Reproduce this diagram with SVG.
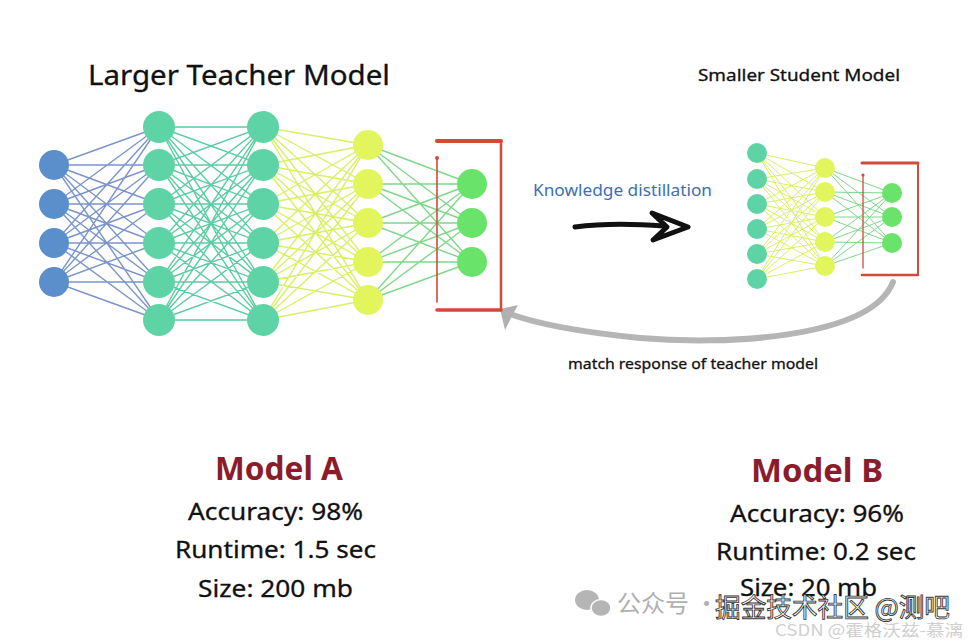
<svg xmlns="http://www.w3.org/2000/svg" width="968" height="643" viewBox="0 0 968 643">
<style>
text{font-family:"Noto Sans","Liberation Sans",sans-serif;}
.e1{stroke:#7b95cb;stroke-width:1.4;fill:none}
.e2{stroke:#5ccca2;stroke-width:1.4;fill:none}
.e3{stroke:#d9ef66;stroke-width:1.4;fill:none}
.e4{stroke:#7fd88a;stroke-width:1.4;fill:none}
.s3{stroke:#d9ef66;stroke-width:1;fill:none}
.s4{stroke:#7fd88a;stroke-width:1;fill:none}
.blue{fill:#5a8fcb}
.teal{fill:#5ed3a6}
.yel{fill:#e2f55c}
.grn{fill:#6ae36a}
.red{stroke:#d24a3a;fill:none;stroke-linecap:round}
.lbl{fill:#111;stroke:#111;stroke-width:0.3}
.title{fill:#8b1c2b;font-weight:bold}
</style>
<rect width="968" height="643" fill="#fff"/>

<g id="connectors">
<path class="e1" d="M54 165L159 127M54 165L159 165M54 165L159 204M54 165L159 243M54 165L159 282M54 165L159 320M54 204L159 127M54 204L159 165M54 204L159 204M54 204L159 243M54 204L159 282M54 204L159 320M54 243L159 127M54 243L159 165M54 243L159 204M54 243L159 243M54 243L159 282M54 243L159 320M54 282L159 127M54 282L159 165M54 282L159 204M54 282L159 243M54 282L159 282M54 282L159 320"/>
<path class="e2" d="M159 127L263 127M159 127L263 165M159 127L263 204M159 127L263 243M159 127L263 282M159 127L263 320M159 165L263 127M159 165L263 165M159 165L263 204M159 165L263 243M159 165L263 282M159 165L263 320M159 204L263 127M159 204L263 165M159 204L263 204M159 204L263 243M159 204L263 282M159 204L263 320M159 243L263 127M159 243L263 165M159 243L263 204M159 243L263 243M159 243L263 282M159 243L263 320M159 282L263 127M159 282L263 165M159 282L263 204M159 282L263 243M159 282L263 282M159 282L263 320M159 320L263 127M159 320L263 165M159 320L263 204M159 320L263 243M159 320L263 282M159 320L263 320"/>
<path class="e3" d="M263 127L368 145M263 127L368 184M263 127L368 223M263 127L368 262M263 127L368 300M263 165L368 145M263 165L368 184M263 165L368 223M263 165L368 262M263 165L368 300M263 204L368 145M263 204L368 184M263 204L368 223M263 204L368 262M263 204L368 300M263 243L368 145M263 243L368 184M263 243L368 223M263 243L368 262M263 243L368 300M263 282L368 145M263 282L368 184M263 282L368 223M263 282L368 262M263 282L368 300M263 320L368 145M263 320L368 184M263 320L368 223M263 320L368 262M263 320L368 300"/>
<path class="e4" d="M368 145L472 184M368 145L472 223M368 145L472 262M368 184L472 184M368 184L472 223M368 184L472 262M368 223L472 184M368 223L472 223M368 223L472 262M368 262L472 184M368 262L472 223M368 262L472 262M368 300L472 184M368 300L472 223M368 300L472 262"/>
<path class="s3" d="M757 153L825 168M757 153L825 192M757 153L825 217M757 153L825 242M757 153L825 266M757 179L825 168M757 179L825 192M757 179L825 217M757 179L825 242M757 179L825 266M757 204L825 168M757 204L825 192M757 204L825 217M757 204L825 242M757 204L825 266M757 229L825 168M757 229L825 192M757 229L825 217M757 229L825 242M757 229L825 266M757 254L825 168M757 254L825 192M757 254L825 217M757 254L825 242M757 254L825 266M757 279L825 168M757 279L825 192M757 279L825 217M757 279L825 242M757 279L825 266"/>
<path class="s4" d="M825 168L892 193M825 168L892 217M825 168L892 243M825 192L892 193M825 192L892 217M825 192L892 243M825 217L892 193M825 217L892 217M825 217L892 243M825 242L892 193M825 242L892 217M825 242L892 243M825 266L892 193M825 266L892 217M825 266L892 243"/>
<path d="M575 227Q612 222 664 226" stroke="#111" stroke-width="5" fill="none" stroke-linecap="round"/>
<path d="M652 213L688 227L653 240L667 227Z" stroke="#111" stroke-width="5" fill="#fff" stroke-linejoin="round"/>
<path d="M893 282C870 340 720 345 640 338C580 332 540 325 510 314" stroke="#b5b5b5" stroke-width="6" fill="none" stroke-linecap="round"/>
<path d="M500 309L518 305L512 316L505 330Z" fill="#b0b0b0"/>
</g>

<g id="teacher-bracket">
<path class="red" d="M437 141L501 141" stroke-width="4"/>
<path class="red" d="M501 141L501 310" stroke-width="2.5"/>
<path class="red" d="M437 310L501 310" stroke-width="3.5"/>
<path class="red" d="M437 158L437 302" stroke-width="1.6"/>
<circle cx="437" cy="158" r="2" fill="#d24a3a"/>
</g>
<g id="student-bracket">
<path class="red" d="M862 163L918 163" stroke-width="3"/>
<path class="red" d="M918 163L918 275" stroke-width="2"/>
<path class="red" d="M862 275L918 275" stroke-width="2.5"/>
<path class="red" d="M863 175L863 268" stroke-width="1.3"/>
<circle cx="863" cy="175" r="1.6" fill="#d24a3a"/>
</g>

<g id="teacher-input" class="blue">
<circle cx="54" cy="165" r="15"/><circle cx="54" cy="204" r="15"/><circle cx="54" cy="243" r="15"/><circle cx="54" cy="282" r="15"/>
</g>
<g id="teacher-hidden1" class="teal">
<circle cx="159" cy="127" r="16"/><circle cx="159" cy="165" r="16"/><circle cx="159" cy="204" r="16"/><circle cx="159" cy="243" r="16"/><circle cx="159" cy="282" r="16"/><circle cx="159" cy="320" r="16"/>
</g>
<g id="teacher-hidden2" class="teal">
<circle cx="263" cy="127" r="16"/><circle cx="263" cy="165" r="16"/><circle cx="263" cy="204" r="16"/><circle cx="263" cy="243" r="16"/><circle cx="263" cy="282" r="16"/><circle cx="263" cy="320" r="16"/>
</g>
<g id="teacher-hidden3" class="yel">
<circle cx="368" cy="145" r="15"/><circle cx="368" cy="184" r="15"/><circle cx="368" cy="223" r="15"/><circle cx="368" cy="262" r="15"/><circle cx="368" cy="300" r="15"/>
</g>
<g id="teacher-output" class="grn">
<circle cx="472" cy="184" r="15"/><circle cx="472" cy="223" r="15"/><circle cx="472" cy="262" r="15"/>
</g>

<g id="student-input" class="teal">
<circle cx="757" cy="153" r="10"/><circle cx="757" cy="179" r="10"/><circle cx="757" cy="204" r="10"/><circle cx="757" cy="229" r="10"/><circle cx="757" cy="254" r="10"/><circle cx="757" cy="279" r="10"/>
</g>
<g id="student-hidden" class="yel">
<circle cx="825" cy="168" r="10"/><circle cx="825" cy="192" r="10"/><circle cx="825" cy="217" r="10"/><circle cx="825" cy="242" r="10"/><circle cx="825" cy="266" r="10"/>
</g>
<g id="student-output" class="grn">
<circle cx="892" cy="193" r="10"/><circle cx="892" cy="217" r="10"/><circle cx="892" cy="243" r="10"/>
</g>

<g id="labels">
<text x="88" y="85" font-size="27" class="lbl" textLength="302" lengthAdjust="spacingAndGlyphs">Larger Teacher Model</text>
<text x="698" y="81" font-size="17" class="lbl" textLength="202" lengthAdjust="spacingAndGlyphs">Smaller Student Model</text>
<text x="533" y="196" font-size="17" fill="#3b6fb6" textLength="179" lengthAdjust="spacingAndGlyphs">Knowledge distillation</text>
<text x="568" y="369" font-size="15" class="lbl" textLength="250" lengthAdjust="spacingAndGlyphs">match response of teacher model</text>
</g>

<g id="model-a">
<text x="215" y="480" font-size="32" class="title" textLength="128" lengthAdjust="spacingAndGlyphs">Model A</text>
<text x="188" y="520" font-size="24" class="lbl" textLength="175" lengthAdjust="spacingAndGlyphs">Accuracy: 98%</text>
<text x="175" y="558" font-size="24" class="lbl" textLength="201" lengthAdjust="spacingAndGlyphs">Runtime: 1.5 sec</text>
<text x="198" y="597" font-size="24" class="lbl" textLength="155" lengthAdjust="spacingAndGlyphs">Size: 200 mb</text>
</g>
<g id="model-b">
<text x="751" y="482" font-size="32" class="title" textLength="132" lengthAdjust="spacingAndGlyphs">Model B</text>
<text x="730" y="522" font-size="24" class="lbl" textLength="174" lengthAdjust="spacingAndGlyphs">Accuracy: 96%</text>
<text x="716" y="560" font-size="24" class="lbl" textLength="200" lengthAdjust="spacingAndGlyphs">Runtime: 0.2 sec</text>
<text x="740" y="596" font-size="24" class="lbl" textLength="137" lengthAdjust="spacingAndGlyphs">Size: 20 mb</text>
</g>

<g id="watermark">
<ellipse cx="587" cy="600" rx="12" ry="10" fill="#b5b5b5"/>
<ellipse cx="601" cy="608" rx="10" ry="8.5" fill="#b5b5b5" stroke="#fff" stroke-width="1.5"/>
<text x="617" y="612" font-size="24" fill="#b0b0b0" style="font-family:'Noto Sans CJK SC',sans-serif">公众号 ·</text>
<text x="715" y="617" font-size="26" fill="#fff" stroke="#333" stroke-width="0.9" style="font-family:'Noto Sans CJK SC',sans-serif" textLength="235" lengthAdjust="spacingAndGlyphs">掘金技术社区 @测吧</text>
<text x="775" y="636" font-size="16" fill="#cfcfcf" style="font-family:'Noto Sans CJK SC',sans-serif" textLength="188" lengthAdjust="spacingAndGlyphs">CSDN @霍格沃兹-慕漓</text>
</g>
</svg>
